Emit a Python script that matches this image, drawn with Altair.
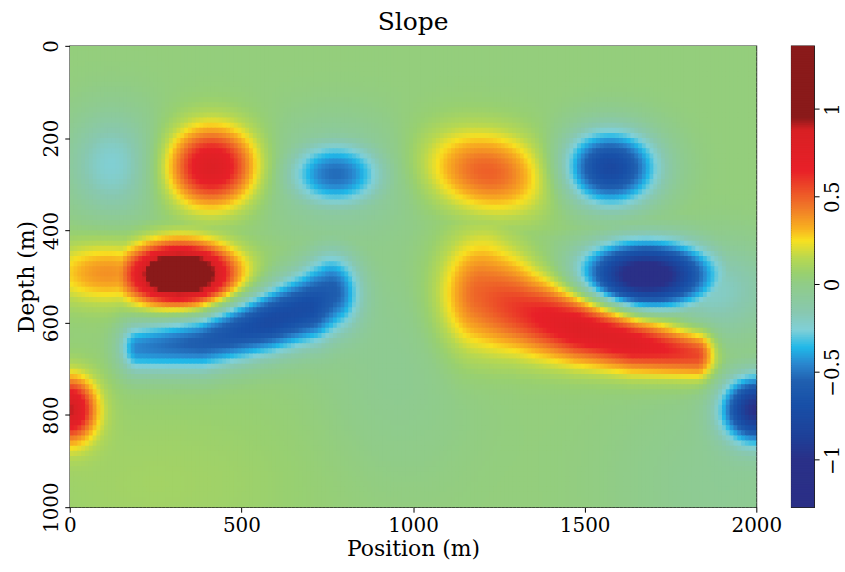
import numpy as np
import pandas as pd
import altair as alt

alt.data_transformers.disable_max_rows()

# ---- axis ticks / extents -------------------------------------------------
x_ticks = [0, 500, 1000, 1500, 2000]
z_ticks = [0, 200, 400, 600, 800, 1000]
cbar_ticks = [-1, -0.5, 0, 0.5, 1]
cbar_min, cbar_max = -1.27, 1.36

# ---- isolated anomalies
# (position m, depth m, slope, half-width x m, half-width z m, tilt deg)
pos_x = [415, 1216, 320, 110, 0]
pos_z = [262, 273, 495, 492, 788]
pos_amp = [0.78, 0.47, 1.45, 0.36, 0.85]
pos_sx = [127, 180, 146, 175, 73]
pos_sz = [84, 86, 62, 66, 67]
pos_tilt = [0, 6, 0, 0, 0]

neg_x = [125, 775, 1573, 1680, 2000, 1860, 775]
neg_z = [258, 278, 265, 497, 788, 530, 280]
neg_amp = [-0.28, -0.55, -0.80, -1.20, -1.00, -0.25, -0.22]
neg_sx = [130, 140, 135, 177, 94, 200, 200]
neg_sz = [110, 70, 80, 68, 67, 100, 110]
neg_tilt = [0, 0, 0, 0, 0, 0, 0]

# ---- elongated anomalies: ridge vertices (position m, depth m, slope, half-width m)
red_x = [1200, 1330, 1480, 1640, 1825]
red_z = [540, 575, 610, 645, 668]
red_amp = [0.48, 0.60, 0.78, 0.75, 0.58]
red_w = [122, 92, 74, 60, 52]

blue_x = [200, 386, 580, 700, 760]
blue_z = [655, 643, 598, 565, 535]
blue_amp = [-0.50, -0.62, -0.78, -0.74, -0.60]
blue_w = [56, 62, 68, 76, 82]

bg_level = 0.03
bg_x = [250, 950, 1900]
bg_z = [950, 700, 950]
bg_amp = [0.06, -0.07, -0.08]
bg_sx = [500, 220, 300]
bg_sz = [200, 250, 200]

# ---- colour bar (jet-like) -------------------------------------------------
c_dom = [-1.27, -1.0, -0.87, -0.68, -0.55, -0.45, -0.36, -0.26, -0.16, 0.0, 0.06, 0.15,
         0.25, 0.32, 0.44, 0.65, 0.88, 0.95, 1.36]
c_rng = ['#2a2f86', '#2a3088', '#1e4098', '#1850a8', '#2060b0', '#2a88d0', '#20b8e8',
         '#80d0d8', '#88c8b0', '#90cc88', '#98d070', '#b8d850', '#f8e020', '#f8b020',
         '#f07828', '#e82028', '#d82024', '#8a1a1a', '#8a1a1a']

NX, NZ = 180, 90
dx, dz = 2000 / NX, 1000 / NZ
xc = (np.arange(NX) + 0.5) * dx
zc = (np.arange(NZ) + 0.5) * dz
X, Z = np.meshgrid(xc, zc)


def blob(x0, z0, a, sx, sz, tilt=0):
    t = np.deg2rad(tilt)
    u = (X - x0) * np.cos(t) + (Z - z0) * np.sin(t)
    w = -(X - x0) * np.sin(t) + (Z - z0) * np.cos(t)
    return a * np.exp(-((u / sx) ** 2 + (w / sz) ** 2))


def ridge(xs, zs, amps, ws):
    out = np.zeros_like(X)
    for i in range(len(xs) - 1):
        ax, az, bx, bz = xs[i], zs[i], xs[i + 1], zs[i + 1]
        vx, vz = bx - ax, bz - az
        t = np.clip(((X - ax) * vx + (Z - az) * vz) / (vx * vx + vz * vz), 0, 1)
        d = np.hypot(X - (ax + t * vx), Z - (az + t * vz))
        a = amps[i] + t * (amps[i + 1] - amps[i])
        w = ws[i] + t * (ws[i + 1] - ws[i])
        f = a * np.exp(-(d / w) ** 2)
        out = np.maximum(out, f) if amps[0] > 0 else np.minimum(out, f)
    return out


pos = ridge(red_x, red_z, red_amp, red_w)
for p in zip(pos_x, pos_z, pos_amp, pos_sx, pos_sz, pos_tilt):
    pos = np.maximum(pos, blob(*p))
neg = ridge(blue_x, blue_z, blue_amp, blue_w)
for p in zip(neg_x, neg_z, neg_amp, neg_sx, neg_sz, neg_tilt):
    neg = np.minimum(neg, blob(*p))
bg = np.full_like(X, bg_level)
for p in zip(bg_x, bg_z, bg_amp, bg_sx, bg_sz):
    bg = bg + blob(*p)
field = bg + pos + neg

df = pd.DataFrame({
    'x': (X - dx / 2).ravel(),
    'x2': (X + dx * 0.75).ravel(),
    'z': (Z - dz / 2).ravel(),
    'z2': (Z + dz * 0.75).ravel(),
    'v': np.round(field.ravel(), 4),
})

step = 0.01
cb_lo = np.arange(cbar_min, cbar_max, step)
cbdf = pd.DataFrame({'lo': cb_lo, 'hi': np.minimum(cb_lo + step * 1.5, cbar_max), 'v': cb_lo + step / 2})

cscale = alt.Scale(domain=c_dom, range=c_rng, interpolate='rgb', clamp=True)
FONT = 'DejaVu Serif'

heat = alt.Chart(df).mark_rect(clip=True, strokeWidth=0).encode(
    x=alt.X('x:Q', scale=alt.Scale(domain=[0, 2000], nice=False, zero=False),
            axis=alt.Axis(values=x_ticks, title='Position (m)', format='d', labelFlush=False)),
    x2='x2:Q',
    y=alt.Y('z:Q', scale=alt.Scale(domain=[0, 1000], reverse=True, nice=False, zero=False),
            axis=alt.Axis(values=z_ticks, title='Depth (m)', format='d', labelAngle=-90,
                          labelFlush=False)),
    y2='z2:Q',
    color=alt.Color('v:Q', scale=cscale, legend=None),
).properties(
    width=689, height=463,
    title=alt.TitleParams('Slope', frame='group', offset=5),
)

cbar = alt.Chart(cbdf).mark_rect(strokeWidth=0).encode(
    x=alt.value(0), x2=alt.value(23),
    y=alt.Y('lo:Q', scale=alt.Scale(domain=[cbar_min, cbar_max], nice=False, zero=False),
            axis=alt.Axis(orient='right', values=cbar_ticks, title=None, labelAngle=-90,
                          format='~g', labelFlush=False)),
    y2='hi:Q',
    color=alt.Color('v:Q', scale=cscale, legend=None),
).properties(width=23, height=463)

chart = alt.hconcat(heat, cbar, spacing=35, bounds='flush').properties(
    padding={'left': 15, 'top': 8, 'right': 2, 'bottom': 0},
    background='white',
).configure_view(
    stroke='#222222', strokeWidth=1.2
).configure_axis(
    grid=False, domain=False, tickColor='black', tickSize=5, tickWidth=1,
    labelFont=FONT, labelFontSize=20, labelColor='black', labelPadding=3,
    titleFont=FONT, titleFontSize=22, titleFontWeight='normal', titleColor='black', titlePadding=3,
).configure_title(
    font=FONT, fontSize=25, fontWeight='normal', color='black', anchor='middle'
)

chart.save('out.html', embed_options={'renderer': 'svg', 'actions': False})
